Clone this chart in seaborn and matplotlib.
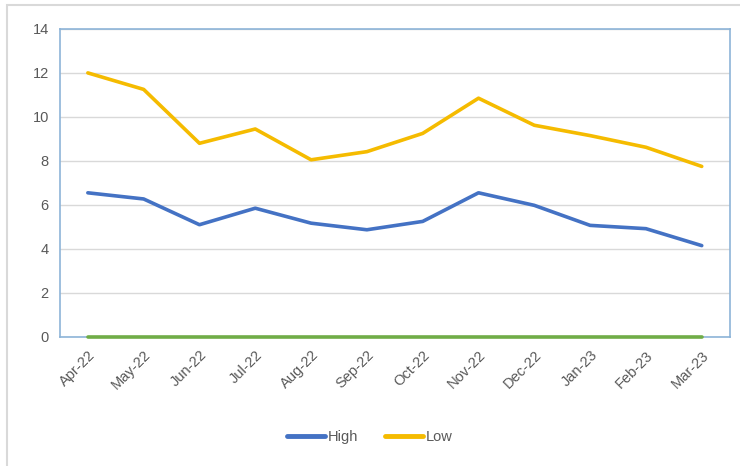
import matplotlib
matplotlib.use("Agg")
import matplotlib.pyplot as plt
import seaborn as sns
import pandas as pd
from matplotlib.lines import Line2D
from matplotlib.patches import Rectangle

months = ["Apr-22", "May-22", "Jun-22", "Jul-22", "Aug-22", "Sep-22",
          "Oct-22", "Nov-22", "Dec-22", "Jan-23", "Feb-23", "Mar-23"]
high = [6.55, 6.27, 5.1, 5.85, 5.17, 4.87, 5.25, 6.55, 5.98, 5.07, 4.92, 4.15]
low = [12.0, 11.25, 8.8, 9.45, 8.05, 8.42, 9.25, 10.85, 9.62, 9.15, 8.62, 7.75]
base = [0] * 12
y_ticks = [0, 2, 4, 6, 8, 10, 12, 14]

c_high = "#4472C4"
c_low = "#F5BB00"
c_base = "#70AD47"

df = pd.DataFrame({
    "x": list(range(len(months))) * 3,
    "value": high + low + base,
    "series": ["High"] * 12 + ["Low"] * 12 + ["Base"] * 12,
})

sns.set_theme(style="white")
plt.rcParams["font.family"] = ["Liberation Sans", "DejaVu Sans"]

fig = plt.figure(figsize=(7.4, 4.66), dpi=100)
ax = fig.add_axes([0.081, 0.277, 0.905, 0.661])

sns.lineplot(data=df, x="x", y="value", hue="series",
             palette={"High": c_high, "Low": c_low, "Base": c_base},
             hue_order=["Base", "High", "Low"],
             linewidth=2.6, ax=ax, legend=False, sort=False)
for ln in ax.get_lines():
    ln.set_zorder(3)
    ln.set_clip_on(False)

ax.set_xlim(-0.5, 11.5)
ax.set_ylim(0, 14)
ax.set_yticks(y_ticks)
ax.set_yticklabels([str(v) for v in y_ticks], color="#595959", fontsize=10.5)
ax.set_xticks(range(len(months)))
ax.set_xticklabels(months, rotation=45, ha="right", rotation_mode="anchor",
                   color="#595959", fontsize=10.5)
ax.tick_params(axis="both", length=0, pad=8)
ax.tick_params(axis="x", pad=8)
ax.set_xlabel("")
ax.set_ylabel("")
ax.yaxis.grid(True, color="#D9D9D9", linewidth=1.0)
ax.set_axisbelow(True)
for s in ax.spines.values():
    s.set_color("#8DB4D8")
    s.set_linewidth(1.2)

handles = [Line2D([0], [0], color=c_high, lw=3.5),
           Line2D([0], [0], color=c_low, lw=3.5)]
fig.legend(handles, ["High", "Low"], loc="center", bbox_to_anchor=(0.5, 0.062),
           ncol=2, frameon=False, fontsize=10.5, handlelength=2.6,
           handletextpad=0.2, columnspacing=1.8, labelcolor="#595959")

# outer chart border
fig.patches.append(Rectangle((7 / 740, -0.05), 1.1, 1 - 5 / 466 + 0.05,
                             transform=fig.transFigure, fill=False,
                             edgecolor="#D9D9D9", linewidth=1.5))

fig.savefig("out.png", dpi=100)
